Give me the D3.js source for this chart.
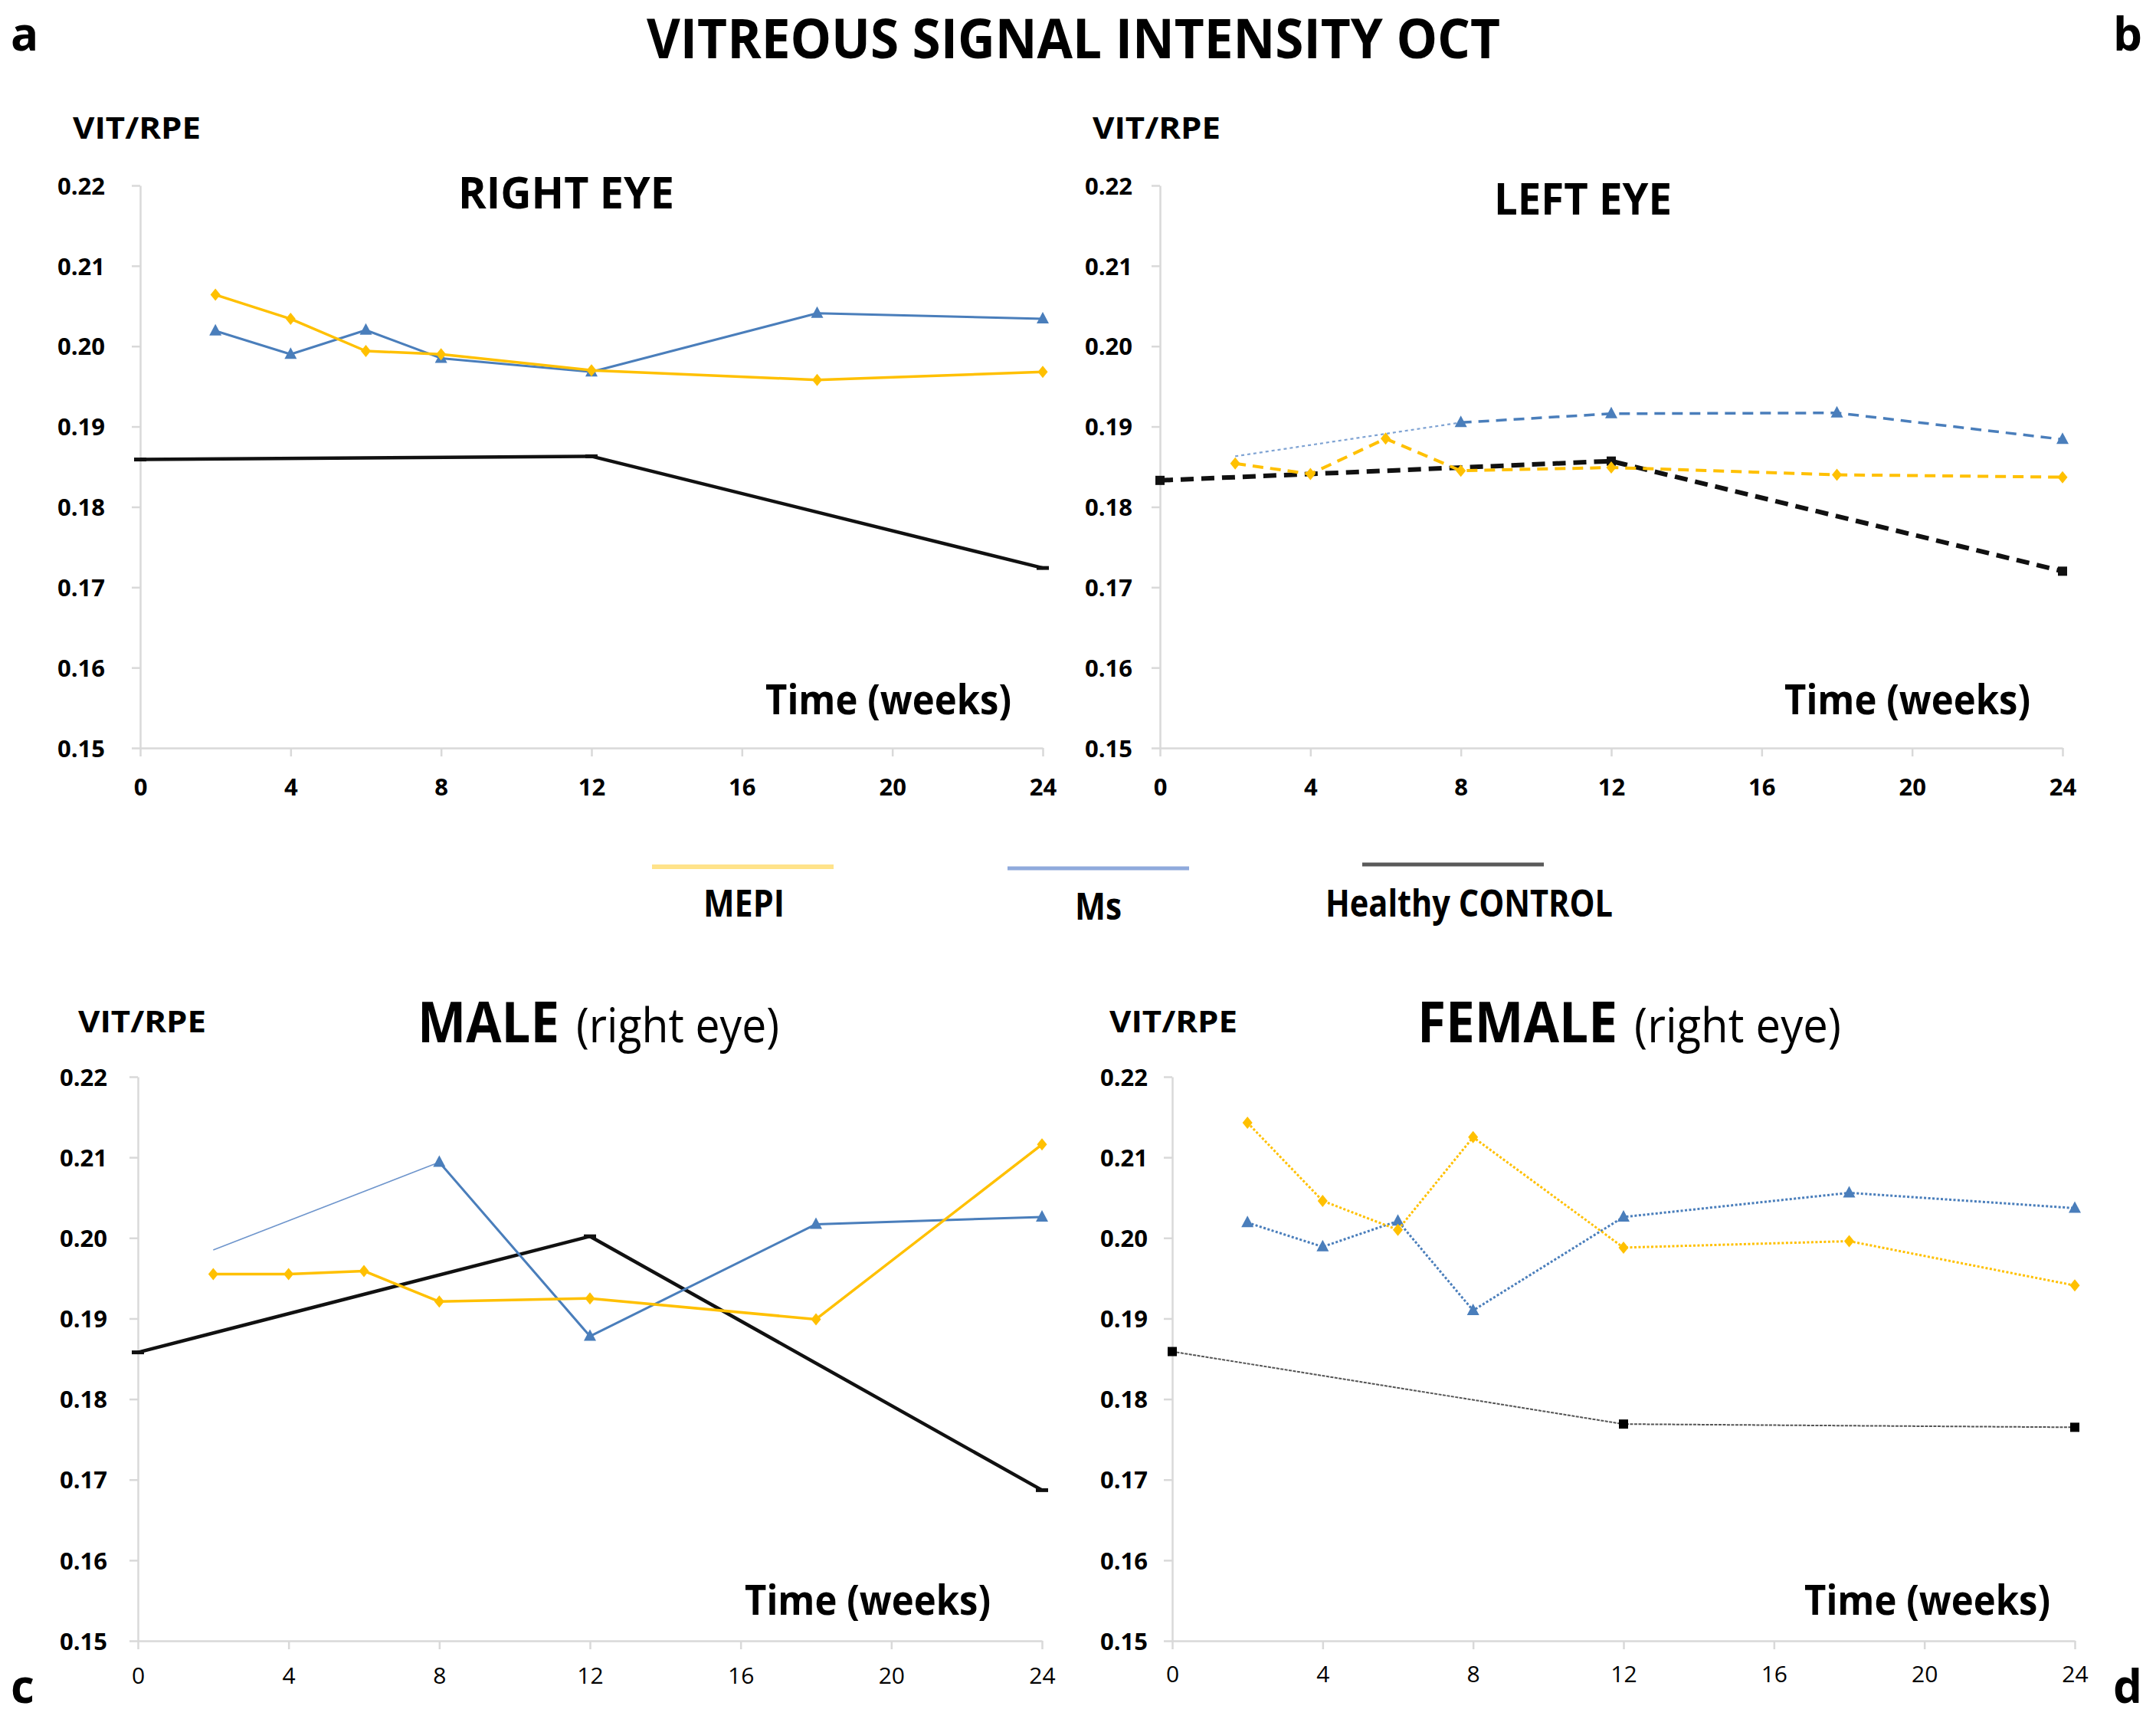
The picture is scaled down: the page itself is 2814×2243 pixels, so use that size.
<!DOCTYPE html>
<html>
<head>
<meta charset="utf-8">
<script src="https://cdn.jsdelivr.net/npm/d3@7"></script>
<style>
body { margin: 0; background: #fff; }
svg { display: block; font-family: "Open Sans", "Noto Sans", sans-serif; }
</style>
</head>
<body>
<svg id="fig" width="2814" height="2243"></svg>
<script>
// ---- data ----
var weeks = [2, 4, 6, 8, 12, 18, 24];
var controlWeeks = [0, 12, 24];
var msGapWeeks = [2, 8, 12, 18, 24];   // Ms series with missing 4/6 weeks
var xTicks = [0, 4, 8, 12, 16, 20, 24];
var yTicks = [0.15, 0.16, 0.17, 0.18, 0.19, 0.20, 0.21, 0.22];

var mepiRight = [0.2064, 0.2034, 0.1994, 0.1990, 0.1970, 0.1958, 0.1968];
var msRight = [0.2019, 0.1990, 0.2020, 0.1985, 0.1968, 0.2041, 0.2034];
var controlRight = [0.1859, 0.1863, 0.1724];

var mepiLeft = [0.1854, 0.1841, 0.1885, 0.1845, 0.1849, 0.1840, 0.1837];
var msLeft = [0.1863, 0.1905, 0.1916, 0.1917, 0.1884];
var controlLeft = [0.1833, 0.1857, 0.1720];

var mepiMale = [0.1955, 0.1955, 0.1959, 0.1921, 0.1925, 0.1899, 0.2116];
var msMale = [0.1985, 0.2094, 0.1878, 0.2017, 0.2026];
var controlMale = [0.1858, 0.2002, 0.1687];

var mepiFemale = [0.2143, 0.2046, 0.2010, 0.2125, 0.1988, 0.1996, 0.1941];
var msFemale = [0.2019, 0.1989, 0.2021, 0.1910, 0.2026, 0.2056, 0.2037];
var controlFemale = [0.1859, 0.1769, 0.1765];

var legendNames = ['MEPI', 'Ms', 'Healthy CONTROL'];

var orange = '#FFC000';
var blue = '#4A7EBB';

var svg = d3.select('#fig');

function addText(x, y, str, size, weight, len) {
    var t = svg.append('text')
        .attr('x', x).attr('y', y)
        .style('font-size', size + 'px')
        .style('font-weight', weight)
        .attr('fill', '#000')
        .text(str);
    if (len) t.attr('textLength', len).attr('lengthAdjust', 'spacingAndGlyphs');
    return t;
}

function markerPath(type, x, y) {
    if (type == 'diamond') {
        return 'M' + x + ',' + (y - 8) + 'L' + (x + 6.5) + ',' + y + 'L' + x + ',' + (y + 8) + 'L' + (x - 6.5) + ',' + y + 'Z';
    }
    if (type == 'triangle') {
        return 'M' + x + ',' + (y - 9) + 'L' + (x + 8) + ',' + (y + 6) + 'L' + (x - 8) + ',' + (y + 6) + 'Z';
    }
    if (type == 'square') {
        return 'M' + (x - 6) + ',' + (y - 6) + 'h12v12h-12Z';
    }
    // little dash
    return 'M' + (x - 8) + ',' + (y - 2.5) + 'h16v5h-16Z';
}

function drawSeries(g, xScale, yScale, ws, vals, st) {
    var pts = ws.map(function (w, i) { return [xScale(w), yScale(vals[i])]; });
    var line = d3.line();
    var start = 0;
    if (st.thinFirst) {
        g.append('path')
            .attr('d', line(pts.slice(0, 2)))
            .attr('fill', 'none')
            .attr('stroke', st.thinColor)
            .attr('stroke-width', st.thinWidth)
            .attr('stroke-dasharray', st.thinDash || null);
        start = 1;
    }
    g.append('path')
        .attr('d', line(pts.slice(start)))
        .attr('fill', 'none')
        .attr('stroke', st.color)
        .attr('stroke-width', st.width)
        .attr('stroke-dasharray', st.dash || null)
        .attr('stroke-linejoin', 'round');
    g.selectAll('.mk' + st.marker)
        .data(pts.slice(start))
        .enter()
        .append('path')
        .attr('d', function (p) { return markerPath(st.marker, p[0], p[1]); })
        .attr('fill', st.markerColor || st.color);
}

function drawPanel(p) {
    var xScale = d3.scaleLinear().domain([0, 24]).range([p.left, p.right]);
    var yScale = d3.scaleLinear().domain([0.15, 0.22]).range([p.bottom, p.top]);
    var g = svg.append('g');

    var yAxis = g.append('g')
        .attr('transform', 'translate(' + p.left + ',0)')
        .call(d3.axisLeft(yScale).tickValues(yTicks).tickFormat(d3.format('.2f')).tickSize(11).tickSizeOuter(0));
    var xAxis = g.append('g')
        .attr('transform', 'translate(0,' + p.bottom + ')')
        .call(d3.axisBottom(xScale).tickValues(xTicks).tickFormat(d3.format('d')).tickSize(11).tickSizeOuter(0));

    g.selectAll('.domain').attr('stroke', '#d9d9d9').attr('stroke-width', 2.5);
    g.selectAll('.tick line').attr('stroke', '#d9d9d9').attr('stroke-width', 2.5);
    yAxis.selectAll('text')
        .attr('x', -p.yLabelGap).attr('dy', '0.36em')
        .attr('fill', '#000')
        .style('font-family', '"Open Sans", sans-serif')
        .style('font-size', '31px').style('font-weight', 'bold');
    xAxis.selectAll('text')
        .attr('y', p.xLabelDy).attr('dy', null)
        .attr('fill', '#000')
        .style('font-family', '"Open Sans", sans-serif')
        .style('font-size', p.xBold ? '31px' : '30px')
        .style('font-weight', p.xBold ? 'bold' : 'normal');

    drawSeries(g, xScale, yScale, controlWeeks, p.control, p.controlStyle);
    drawSeries(g, xScale, yScale, p.msWeeks, p.ms, p.msStyle);
    drawSeries(g, xScale, yScale, weeks, p.mepi, p.mepiStyle);
}

var panels = [
    {
        left: 183, right: 1361, top: 242, bottom: 976, xLabelDy: 62, xBold: true, yLabelGap: 46,
        mepi: mepiRight, ms: msRight, msWeeks: weeks, control: controlRight,
        mepiStyle: { color: orange, width: 3.5, marker: 'diamond' },
        msStyle: { color: blue, width: 3, marker: 'triangle' },
        controlStyle: { color: '#111', width: 4.5, marker: 'dash' }
    },
    {
        left: 1514, right: 2692, top: 242, bottom: 976, xLabelDy: 62, xBold: true, yLabelGap: 36,
        mepi: mepiLeft, ms: msLeft, msWeeks: msGapWeeks, control: controlLeft,
        mepiStyle: { color: orange, width: 4, dash: '14,9', marker: 'diamond' },
        msStyle: { color: blue, width: 3.5, dash: '14,9', marker: 'triangle',
            thinFirst: true, thinColor: '#7FA3D3', thinWidth: 2.2, thinDash: '4,4' },
        controlStyle: { color: '#111', width: 6, dash: '17,10', marker: 'square' }
    },
    {
        left: 180, right: 1360, top: 1405, bottom: 2141, xLabelDy: 56, xBold: false, yLabelGap: 40,
        mepi: mepiMale, ms: msMale, msWeeks: msGapWeeks, control: controlMale,
        mepiStyle: { color: orange, width: 3.5, marker: 'diamond' },
        msStyle: { color: blue, width: 3, marker: 'triangle',
            thinFirst: true, thinColor: '#6E95CC', thinWidth: 1.6 },
        controlStyle: { color: '#111', width: 4.5, marker: 'dash' }
    },
    {
        left: 1530, right: 2708, top: 1405, bottom: 2141, xLabelDy: 54, xBold: false, yLabelGap: 32,
        mepi: mepiFemale, ms: msFemale, msWeeks: weeks, control: controlFemale,
        mepiStyle: { color: orange, width: 3, dash: '3,2.5', marker: 'diamond' },
        msStyle: { color: blue, width: 3, dash: '3,2.5', marker: 'triangle' },
        controlStyle: { color: '#555', width: 2, dash: '4,1.5', marker: 'square', markerColor: '#000' }
    }
];

panels.forEach(drawPanel);

// ---- texts ----
addText(844, 76, 'VITREOUS SIGNAL INTENSITY OCT', 72, 'bold', 1114);
addText(14, 66, 'a', 60, 'bold');
addText(2758, 66, 'b', 60, 'bold');
addText(14, 2222, 'c', 60, 'bold');
addText(2758, 2222, 'd', 60, 'bold');

addText(95, 181, 'VIT/RPE', 40, 'bold', 167);
addText(1426, 181, 'VIT/RPE', 40, 'bold', 167);
addText(102, 1347, 'VIT/RPE', 40, 'bold', 167);
addText(1448, 1347, 'VIT/RPE', 40, 'bold', 167);

addText(598, 272, 'RIGHT EYE', 58, 'bold', 282);
addText(1950, 280, 'LEFT EYE', 58, 'bold', 232);
addText(545, 1360, 'MALE', 73, 'bold', 185);
addText(752, 1360, '(right eye)', 62, 'normal', 265);
addText(1850, 1360, 'FEMALE', 73, 'bold', 261);
addText(2133, 1360, '(right eye)', 62, 'normal', 270);

addText(999, 932, 'Time (weeks)', 54, 'bold', 321);
addText(2329, 932, 'Time (weeks)', 54, 'bold', 321);
addText(972, 2107, 'Time (weeks)', 54, 'bold', 321);
addText(2355, 2107, 'Time (weeks)', 54, 'bold', 321);

// ---- legend ----
var legendLines = [
    { x1: 851, x2: 1088, y: 1131, color: '#FFE38A', w: 6 },
    { x1: 1315, x2: 1552, y: 1133, color: '#8FAADC', w: 5 },
    { x1: 1778, x2: 2015, y: 1128, color: '#595959', w: 5 }
];
var legendText = [
    { x: 918, y: 1196, len: 106 },
    { x: 1403, y: 1200, len: 61 },
    { x: 1730, y: 1196, len: 375 }
];
svg.selectAll('.legLine')
    .data(legendLines)
    .enter()
    .append('line')
    .attr('class', 'legLine')
    .attr('x1', function (d) { return d.x1; })
    .attr('x2', function (d) { return d.x2; })
    .attr('y1', function (d) { return d.y; })
    .attr('y2', function (d) { return d.y; })
    .attr('stroke', function (d) { return d.color; })
    .attr('stroke-width', function (d) { return d.w; });
legendNames.forEach(function (name, i) {
    addText(legendText[i].x, legendText[i].y, name, 48, 'bold', legendText[i].len);
});
</script>
</body>
</html>
